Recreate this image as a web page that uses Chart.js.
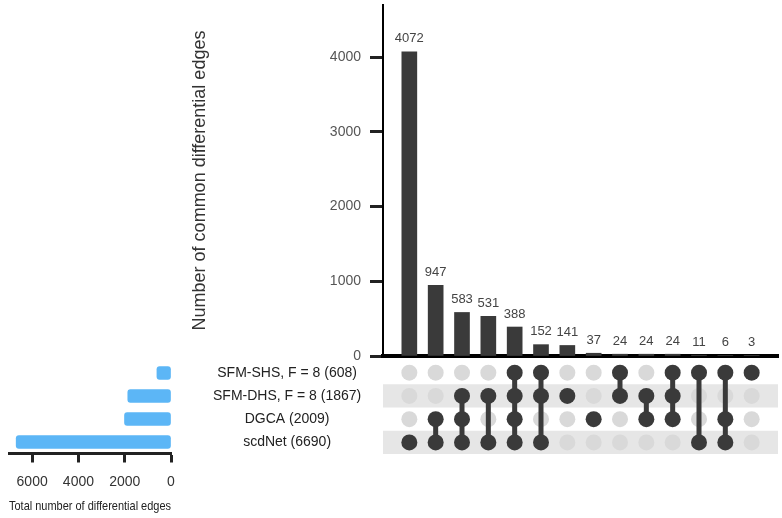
<!DOCTYPE html>
<html>
<head>
<meta charset="utf-8">
<script src="https://cdn.jsdelivr.net/npm/chart.js@4.4.1/dist/chart.umd.min.js"></script>
<style>
  html, body { margin: 0; padding: 0; background: #fff; width: 782px; height: 518px; overflow: hidden; position: relative; }
  canvas { position: absolute; }
  #mainChart { left: 185px; top: 0; }
  #matrixChart { left: 383px; top: 361px; }
  #setChart { left: 0; top: 350px; }
</style>
</head>
<body>
<canvas id="mainChart" width="597" height="365"></canvas>
<canvas id="matrixChart" width="395" height="93"></canvas>
<canvas id="setChart" width="383" height="168"></canvas>
<script>
// Sets (top to bottom in the matrix) and their total sizes
const setNames = ["SFM-SHS, F = 8 (608)", "SFM-DHS, F = 8 (1867)", "DGCA (2009)", "scdNet (6690)"];
const setSizes = [608, 1867, 2009, 6690];

// Intersection sizes and which sets (row index) take part in each
const intersectionSizes = [4072, 947, 583, 531, 388, 152, 141, 37, 24, 24, 24, 11, 6, 3];
const intersectionSets = [[3], [2, 3], [1, 2, 3], [1, 3], [0, 1, 2, 3], [0, 1, 3], [1], [2], [0, 1], [1, 2], [0, 1, 2], [0, 3], [0, 2, 3], [0]];

// Tick labels
const mainTicks = [0, 1000, 2000, 3000, 4000];
const setTicks = [0, 2000, 4000, 6000];

Chart.defaults.font.family = '"Liberation Sans", Arial, sans-serif';

// Scales add half-label padding around the chart area, we line the three charts up by hand
const noPad = axis => {
    axis.paddingTop = 0;
    axis.paddingBottom = 0;
    axis.paddingLeft = 0;
    axis.paddingRight = 0;
};

// Numbers on top of the intersection bars
const barLabels = {
    id: "barLabels",
    afterDatasetsDraw(chart) {
        const ctx = chart.ctx;
        const meta = chart.getDatasetMeta(0);
        ctx.save();
        ctx.font = '13px "Liberation Sans", Arial, sans-serif';
        ctx.fillStyle = "#444";
        ctx.textAlign = "center";
        ctx.textBaseline = "middle";
        meta.data.forEach((bar, i) => ctx.fillText(String(intersectionSizes[i]), bar.x, bar.y - 13));
        ctx.restore();
    }
};

// Grey stripes behind every other row of the matrix
const rowBands = {
    id: "rowBands",
    beforeDatasetsDraw(chart) {
        const { ctx, chartArea, scales: { y } } = chart;
        ctx.save();
        ctx.fillStyle = "#e6e6e6";
        setNames.forEach((_, r) => {
            if (r % 2 !== 1) return;
            const top = y.getPixelForValue(r - 0.5);
            const bottom = y.getPixelForValue(r + 0.5);
            ctx.fillRect(chartArea.left, top, chartArea.right - chartArea.left, bottom - top);
        });
        ctx.restore();
    }
};

// Intersection size bar chart
new Chart(document.getElementById("mainChart"), {
    type: "bar",
    data: {
        datasets: [{
            data: intersectionSizes.map((v, i) => ({ x: i, y: v })),
            backgroundColor: "#3a3a3a",
            barThickness: 15
        }]
    },
    options: {
        responsive: false,
        animation: false,
        layout: { autoPadding: false, padding: { top: 5, right: 4 } },
        plugins: { legend: { display: false }, tooltip: { enabled: false } },
        scales: {
            x: {
                type: "linear",
                offset: false,
                min: -1,
                max: 14,
                ticks: { display: false },
                grid: { display: false },
                border: { color: "#000", width: 4 },
                afterFit: axis => { axis.height = 9; noPad(axis); }
            },
            y: {
                min: 0,
                max: 4700,
                afterBuildTicks: axis => { axis.ticks = mainTicks.map(v => ({ value: v })); },
                ticks: { color: "#555", font: { size: 14 }, padding: 9, callback: v => String(v) },
                grid: { drawOnChartArea: false, tickLength: 13, tickWidth: 3, tickColor: "#222" },
                border: { color: "#000", width: 2 },
                title: { display: true, text: "Number of common differential edges", color: "#333", font: { size: 18 } },
                afterFit: axis => { axis.width = 198; noPad(axis); }
            }
        }
    },
    plugins: [barLabels]
});

// Matrix of dots
const emptyDots = [];
const memberDots = [];
const links = [];
intersectionSets.forEach((sets, i) => {
    setNames.forEach((_, r) => {
        if (!sets.includes(r)) emptyDots.push({ x: i, y: r });
    });
    sets.forEach(r => memberDots.push({ x: i, y: r }));
    if (sets.length > 1) {
        links.push({
            data: [{ x: i, y: Math.min(...sets) }, { x: i, y: Math.max(...sets) }],
            showLine: true,
            borderColor: "#3a3a3a",
            borderWidth: 5,
            pointRadius: 0,
            order: 2
        });
    }
});

new Chart(document.getElementById("matrixChart"), {
    type: "scatter",
    data: {
        datasets: [
            { data: memberDots, backgroundColor: "#3a3a3a", borderWidth: 0, pointRadius: 8, order: 1 },
            ...links,
            { data: emptyDots, backgroundColor: "#d9d9d9", borderWidth: 0, pointRadius: 8, order: 3 }
        ]
    },
    options: {
        responsive: false,
        animation: false,
        layout: { autoPadding: false, padding: 0 },
        plugins: { legend: { display: false }, tooltip: { enabled: false } },
        scales: {
            x: { type: "linear", min: -1, max: 14, display: false },
            y: { type: "linear", min: -0.5, max: 3.5, reverse: true, display: false }
        }
    },
    plugins: [rowBands]
});

// Set size bar chart (left)
new Chart(document.getElementById("setChart"), {
    type: "bar",
    data: {
        labels: setNames,
        datasets: [{
            data: setSizes,
            backgroundColor: "#5cb6f6",
            barThickness: 13,
            borderRadius: 3,
            borderSkipped: false
        }]
    },
    options: {
        indexAxis: "y",
        responsive: false,
        animation: false,
        layout: { autoPadding: false, padding: { top: 11.5, left: 9 } },
        plugins: { legend: { display: false }, tooltip: { enabled: false } },
        scales: {
            x: {
                reverse: true,
                min: 0,
                max: 7000,
                afterBuildTicks: axis => { axis.ticks = setTicks.map(v => ({ value: v })); },
                ticks: { color: "#333", font: { size: 14 }, padding: 11, callback: v => String(v) },
                grid: { drawOnChartArea: false, tickLength: 9, tickWidth: 3, tickColor: "#222" },
                border: { color: "#222", width: 3 },
                title: { display: true, text: "Total number of differential edges", color: "#222", font: { size: 13 } },
                afterFit: axis => { axis.height = 64.5; noPad(axis); }
            },
            y: {
                position: "right",
                grid: { display: false, drawTicks: false },
                border: { display: false },
                ticks: { color: "#222", font: { size: 14 }, crossAlign: "center", padding: 42, autoSkip: false },
                afterFit: axis => { axis.width = 212; noPad(axis); }
            }
        }
    }
});
</script>
</body>
</html>
